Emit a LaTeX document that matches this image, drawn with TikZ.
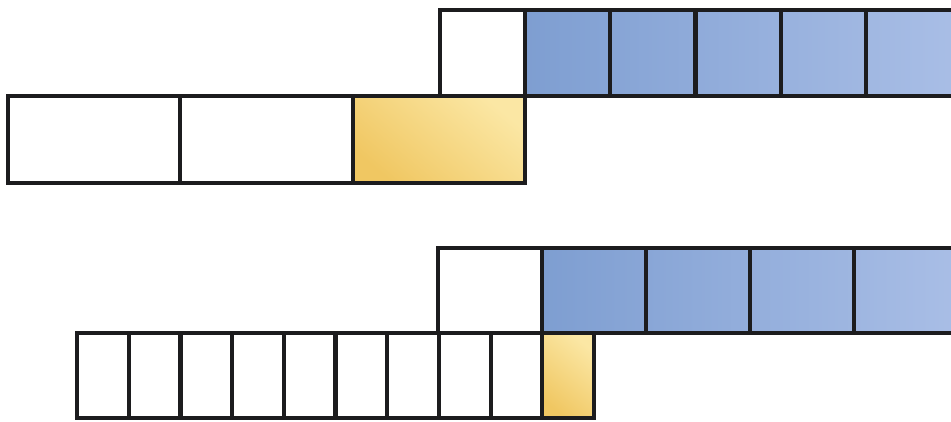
\documentclass[tikz,border=0pt]{standalone}
\usepackage{tikz}
\usetikzlibrary{positioning}
\definecolor{cellline}{HTML}{1C1C1E}
\definecolor{blueL}{HTML}{7E9ED1}
\definecolor{blueR}{HTML}{A9BEE6}
\definecolor{goldD}{HTML}{F0C762}
\definecolor{goldL}{HTML}{FBE7A4}
\tikzset{
  cell/.style={rectangle, draw=cellline, line width=4.2pt, inner sep=0pt, outer sep=0pt, fill=white},
  wide/.style={cell, minimum width=172.3pt, minimum height=87pt},
  topbox/.style={cell, minimum width=85.3pt, minimum height=86pt},
  narrow/.style={cell, minimum width=51.7pt, minimum height=85pt},
  bigbox/.style={cell, minimum width=104pt, minimum height=85pt},
  goldcell/.style={top color=goldL, bottom color=goldD, shading angle=-40}
}

\begin{document}
\begin{tikzpicture}[x=1pt, y=-1pt]
    \useasboundingbox (0,0) rectangle (951,421);

    % upper pair of rows
    \node (tw1) [wide, anchor=north west] at (8,96) {};
    \node (tw2) [wide, right=0pt of tw1] {};
    \node (ty) [wide, goldcell, right=0pt of tw2] {};
    \node (tb0) [topbox, above left=0pt and 0pt of ty.north east] {};
    \foreach \i/\w [remember=\i as \prev (initially 0),
        evaluate=\i as \pa using int(20*(\i-1)),
        evaluate=\i as \pb using int(20*\i)] in {1/85.3,2/85.3,3/85.3,4/85.3,5/95}
        \node (tb\i) [topbox, minimum width=\w pt, left color=blueR!\pa!blueL, right color=blueR!\pb!blueL, right=0pt of tb\prev] {};

    % lower pair of rows
    \node (bn1) [narrow, anchor=north west] at (77,333) {};
    \foreach \i [remember=\i as \prev (initially 1)] in {2,...,9}
        \node (bn\i) [narrow, right=0pt of bn\prev] {};
    \node (by) [narrow, goldcell, right=0pt of bn9] {};
    \node (bb0) [bigbox, above left=0pt and 0pt of by.north west] {};
    \foreach \i [remember=\i as \prev (initially 0),
        evaluate=\i as \pa using int(25*(\i-1)),
        evaluate=\i as \pb using int(25*\i)] in {1,...,4}
        \node (bb\i) [bigbox, left color=blueR!\pa!blueL, right color=blueR!\pb!blueL, right=0pt of bb\prev] {};
\end{tikzpicture}
\end{document}
